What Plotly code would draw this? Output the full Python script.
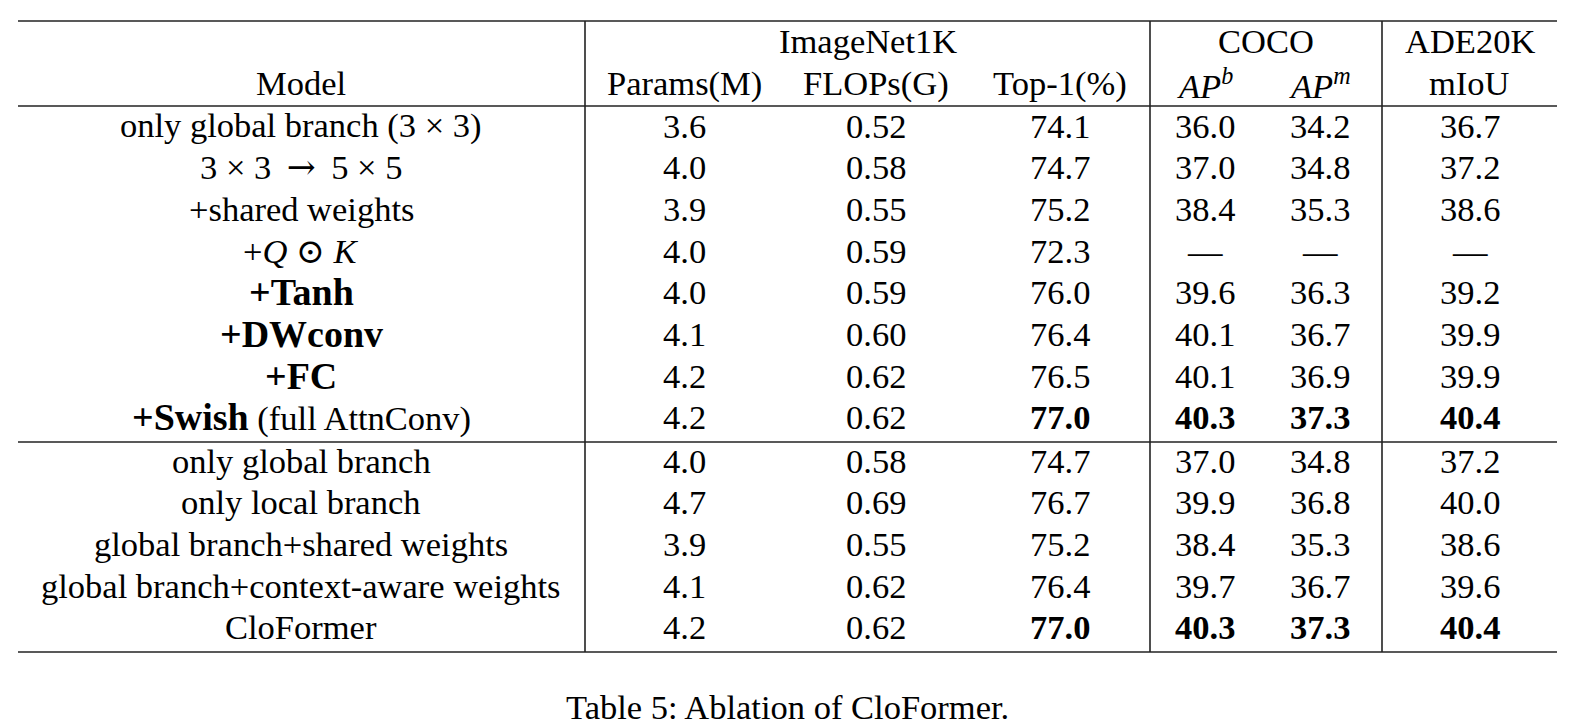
import plotly.graph_objects as go

# ---------------- data ----------------
models = [
    "only global branch (3 × 3)",
    "3 × 3 → 5 × 5",
    "+shared weights",
    "+Q ⊙ K",
    "+Tanh",
    "+DWconv",
    "+FC",
    "+Swish (full AttnConv)",
    "only global branch",
    "only local branch",
    "global branch+shared weights",
    "global branch+context-aware weights",
    "CloFormer",
]
bold_prefix = {4: "+Tanh", 5: "+DWconv", 6: "+FC", 7: "+Swish"}
params = [3.6, 4.0, 3.9, 4.0, 4.0, 4.1, 4.2, 4.2, 4.0, 4.7, 3.9, 4.1, 4.2]
flops = [0.52, 0.58, 0.55, 0.59, 0.59, 0.60, 0.62, 0.62, 0.58, 0.69, 0.55, 0.62, 0.62]
top1 = [74.1, 74.7, 75.2, 72.3, 76.0, 76.4, 76.5, 77.0, 74.7, 76.7, 75.2, 76.4, 77.0]
ap_b = [36.0, 37.0, 38.4, None, 39.6, 40.1, 40.1, 40.3, 37.0, 39.9, 38.4, 39.7, 40.3]
ap_m = [34.2, 34.8, 35.3, None, 36.3, 36.7, 36.9, 37.3, 34.8, 36.8, 35.3, 36.7, 37.3]
miou = [36.7, 37.2, 38.6, None, 39.2, 39.9, 39.9, 40.4, 37.2, 40.0, 38.6, 39.6, 40.4]
best_rows = [7, 12]  # rows whose Top-1 / COCO / ADE values are bold

group_headers = ["ImageNet1K", "COCO", "ADE20K"]
col_headers = ["Model", "Params(M)", "FLOPs(G)", "Top-1(%)", "AP|b", "AP|m", "mIoU"]
caption = "Table 5: Ablation of CloFormer."

# ---------------- layout constants ----------------
W, H = 1569, 726
FONT = "'Liberation Serif', 'Times New Roman', Times, 'DejaVu Serif', serif"
FS = 34.5
BOLD_FS = 38
LEFT, RIGHT = 18, 1557
VLINES = [585, 1150, 1382]
TOP_RULE, HEAD_RULE, MID_RULE, BOT_RULE = 21, 106, 442, 652
col_x = [301, 684.5, 876, 1060, 1205, 1320, 1469.5]
group_x = [(VLINES[0] + VLINES[1]) / 2, (VLINES[1] + VLINES[2]) / 2, (VLINES[2] + RIGHT) / 2]
HEAD_Y1, HEAD_Y2 = 41, 83
ROW_Y0, ROW_STEP, GAP = 125.5, 41.7, 1.4
CAPTION_Y = 707

fig = go.Figure()
fig.add_trace(go.Scatter(x=[0, W], y=[0, H], mode="markers",
                         marker=dict(opacity=0), hoverinfo="skip", showlegend=False))

ann = []


def add_text(x, y, text, size=FS):
    ann.append(dict(x=x, y=y, xref="x", yref="y", text=text, showarrow=False,
                    xanchor="center", yanchor="middle",
                    font=dict(family=FONT, size=size, color="#000")))


def header_markup(h):
    if "|" in h:
        base, sup = h.split("|")
        return f"<i>{base}</i><sup><i>{sup}</i></sup>"
    return h


def model_markup(i, m):
    if i in bold_prefix:
        p = bold_prefix[i]
        rest = m[len(p):]
        return f"<span style='font-size:{BOLD_FS}px'><b>{p}</b></span>{rest}"
    if "⊙" in m:
        return m.replace("Q", "<i>Q</i>").replace("K", "<i>K</i>").replace(
            "⊙", "<span style='font-family:DejaVu Serif'>⊙</span>")
    if "→" in m:
        return m.replace(" → ", "\u2009 <span style='font-family:DejaVu Serif'>→</span> \u2009")
    return m


for gx, g in zip(group_x, group_headers):
    add_text(gx, HEAD_Y1, g)
for cx, c in zip(col_x, col_headers):
    add_text(cx, HEAD_Y2, header_markup(c))


def fmt(v, nd, bold):
    if v is None:
        return "—"
    s = f"{v:.{nd}f}"
    return f"<b>{s}</b>" if bold else s


for i, m in enumerate(models):
    y = ROW_Y0 + i * ROW_STEP + (GAP if i >= 8 else 0)
    b = i in best_rows
    cells = [model_markup(i, m), fmt(params[i], 1, False), fmt(flops[i], 2, False),
             fmt(top1[i], 1, b), fmt(ap_b[i], 1, b), fmt(ap_m[i], 1, b), fmt(miou[i], 1, b)]
    for cx, t in zip(col_x, cells):
        add_text(cx, y, t)

add_text(787.5, CAPTION_Y, caption)

shapes = []
lw = 1.6
for yy in [TOP_RULE, HEAD_RULE, MID_RULE, BOT_RULE]:
    shapes.append(dict(type="line", xref="x", yref="y", x0=LEFT, x1=RIGHT, y0=yy, y1=yy,
                       line=dict(color="#222", width=lw)))
for xx in VLINES:
    shapes.append(dict(type="line", xref="x", yref="y", x0=xx, x1=xx, y0=TOP_RULE, y1=BOT_RULE,
                       line=dict(color="#222", width=lw)))

fig.update_layout(
    width=W, height=H, margin=dict(l=0, r=0, t=0, b=0),
    paper_bgcolor="white", plot_bgcolor="white",
    xaxis=dict(range=[0, W], visible=False, fixedrange=True),
    yaxis=dict(range=[H, 0], visible=False, fixedrange=True),
    annotations=ann, shapes=shapes, showlegend=False,
)
fig.write_html("out.html", config={"displayModeBar": False},
               post_script="document.body.style.margin='0';document.body.style.overflow='hidden';")
